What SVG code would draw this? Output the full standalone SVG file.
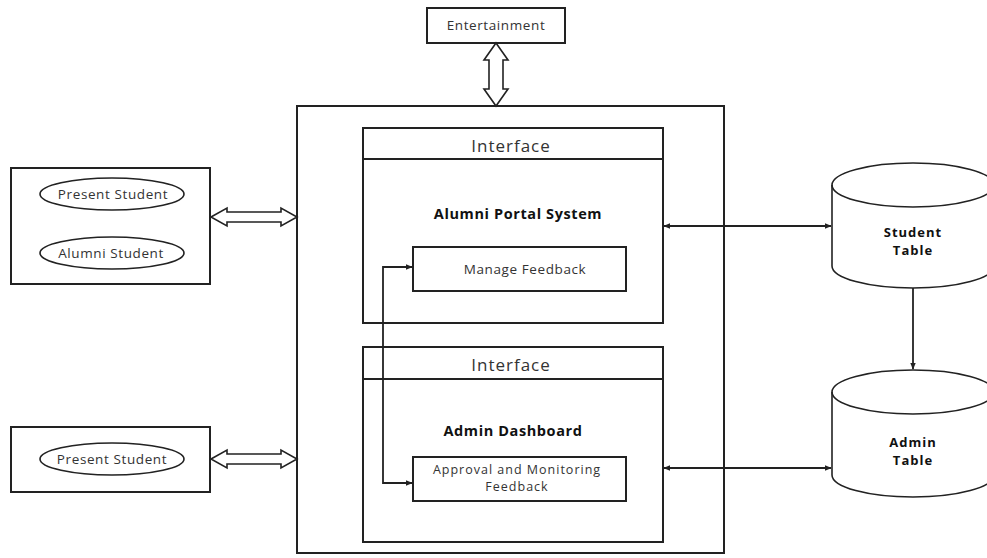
<svg xmlns="http://www.w3.org/2000/svg" width="987" height="558" viewBox="0 0 987 558">
<defs>
<style>
.box{fill:#fff;stroke:#222;stroke-width:2}
.thin{fill:none;stroke:#222;stroke-width:1.6}
.line{fill:none;stroke:#222;stroke-width:1.8}
.dbl{fill:#fff;stroke:#222;stroke-width:1.6;stroke-linejoin:miter}
.t{font-family:"Open Sans","Liberation Sans",sans-serif;fill:#333;text-anchor:middle}
.s{font-size:13.5px;letter-spacing:0.6px}
.s2{font-size:12.5px;letter-spacing:1px}
.h{font-size:17px;letter-spacing:1px}
.b{font-size:14.5px;font-weight:bold;fill:#111;letter-spacing:0.6px}
.b2{font-size:13px;font-weight:bold;fill:#111;letter-spacing:1px}
</style>
<marker id="ah" viewBox="0 0 10 10" refX="9" refY="5" markerWidth="7" markerHeight="7" orient="auto-start-reverse" markerUnits="userSpaceOnUse">
<path d="M0,1 L10,5 L0,9 Z" fill="#222"/>
</marker>
</defs>
<rect width="987" height="558" fill="#fff"/>

<g id="main-box"><rect class="box" x="297" y="106" width="427" height="447"/></g>

<g id="entertainment">
<rect class="box" x="427" y="8" width="138" height="35"/>
<text class="t s" x="496" y="30">Entertainment</text>
</g>

<g id="interface-1">
<rect class="box" x="363" y="128" width="300" height="195"/>
<line class="line" x1="363" y1="159" x2="663" y2="159"/>
<text class="t h" x="511" y="152">Interface</text>
<text class="t b" x="518" y="219">Alumni Portal System</text>
</g>
<g id="manage-feedback">
<rect class="box" x="413" y="247" width="213" height="44"/>
<text class="t s" x="525" y="274">Manage Feedback</text>
</g>

<g id="interface-2">
<rect class="box" x="363" y="347" width="300" height="195"/>
<line class="line" x1="363" y1="379" x2="663" y2="379"/>
<text class="t h" x="511" y="371">Interface</text>
<text class="t b" x="513" y="436">Admin Dashboard</text>
</g>
<g id="approval">
<rect class="box" x="413" y="457" width="213" height="44"/>
<text class="t s2" x="517" y="474">Approval and Monitoring</text>
<text class="t s2" x="517" y="491">Feedback</text>
</g>

<g id="students-1">
<rect class="box" x="11" y="168" width="199" height="116"/>
<ellipse class="thin" cx="112" cy="194" rx="72" ry="16"/>
<text class="t s" x="113" y="199">Present Student</text>
<ellipse class="thin" cx="112" cy="253" rx="72" ry="16"/>
<text class="t s" x="111" y="258">Alumni Student</text>
</g>

<g id="students-2">
<rect class="box" x="11" y="427" width="199" height="65"/>
<ellipse class="thin" cx="112" cy="459" rx="72" ry="16"/>
<text class="t s" x="112" y="464">Present Student</text>
</g>

<g id="student-table">
<path class="thin" d="M832,185 L832,266 A81,22 0 0 0 994,266 L994,185" fill="#fff"/>
<ellipse class="thin" cx="913" cy="185" rx="81" ry="22" fill="#fff"/>
<text class="t b2" x="913" y="237">Student</text>
<text class="t b2" x="913" y="255">Table</text>
</g>

<g id="admin-table">
<path class="thin" d="M832,392 L832,475 A81,22 0 0 0 994,475 L994,392" fill="#fff"/>
<ellipse class="thin" cx="913" cy="392" rx="81" ry="22" fill="#fff"/>
<text class="t b2" x="913" y="447">Admin</text>
<text class="t b2" x="913" y="465">Table</text>
</g>

<g id="connectors">
<path class="dbl" d="M496,43 L508,60 L503,60 L503,89 L508,89 L496,106 L484,89 L489,89 L489,60 L484,60 Z"/>
<path class="dbl" d="M211,217 L227,208 L227,212 L281,212 L281,208 L297,217 L281,226 L281,222 L227,222 L227,226 Z"/>
<path class="dbl" d="M211,459 L227,450 L227,454 L281,454 L281,450 L297,459 L281,468 L281,464 L227,464 L227,468 Z"/>
<path class="line" d="M412,267 L383,267 L383,483 L412,483" marker-start="url(#ah)" marker-end="url(#ah)"/>
<line class="line" x1="664" y1="226" x2="831" y2="226" marker-start="url(#ah)" marker-end="url(#ah)"/>
<line class="line" x1="664" y1="468" x2="831" y2="468" marker-start="url(#ah)" marker-end="url(#ah)"/>
<line class="line" x1="913" y1="288" x2="913" y2="369" marker-end="url(#ah)"/>
</g>
</svg>
